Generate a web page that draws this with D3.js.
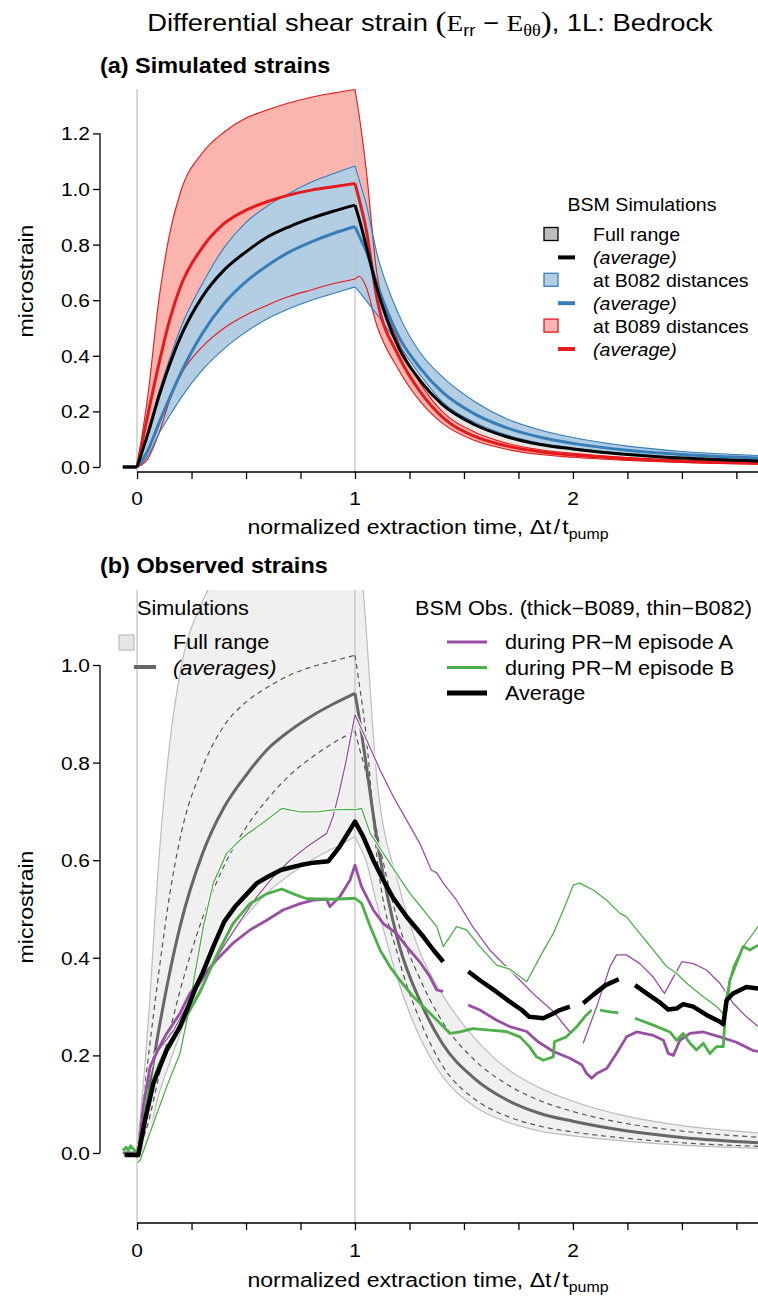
<!DOCTYPE html>
<html>
<head>
<meta charset="utf-8">
<script src="https://cdn.jsdelivr.net/npm/d3@7"></script>
<style>
  body { margin: 0; background: #fff; }
  svg { display: block; }
</style>
</head>
<body>
<svg id="chart" width="758" height="1297"></svg>
<script>
// ---------- simulated strains (normalized time grid) ----------
const simT       = [-0.065, 0, 0.05, 0.1, 0.15, 0.2, 0.3, 0.4, 0.5, 0.6, 0.7, 0.8, 0.9, 1.0, 1.02, 1.05, 1.1, 1.2, 1.3, 1.4, 1.55, 1.7, 1.85, 2.0, 2.25, 2.5, 2.9];
const simAvgAll  = [0, 0, 0.12, 0.253, 0.37, 0.469, 0.613, 0.709, 0.774, 0.828, 0.865, 0.895, 0.92, 0.942, 0.89, 0.80, 0.645, 0.43, 0.31, 0.225, 0.152, 0.108, 0.081, 0.065, 0.045, 0.032, 0.02];
const simHiB082  = [0, 0, 0.13, 0.27, 0.39, 0.50, 0.66, 0.79, 0.88, 0.94, 0.985, 1.025, 1.055, 1.083, 1.03, 0.95, 0.77, 0.55, 0.41, 0.325, 0.235, 0.172, 0.133, 0.106, 0.075, 0.056, 0.04];
const simAvgB082 = [0, 0, 0.06, 0.157, 0.25, 0.337, 0.481, 0.589, 0.667, 0.726, 0.774, 0.81, 0.84, 0.865, 0.83, 0.78, 0.66, 0.47, 0.355, 0.27, 0.19, 0.14, 0.107, 0.085, 0.06, 0.045, 0.031];
const simLoB082  = [0, 0, 0.04, 0.12, 0.185, 0.247, 0.349, 0.426, 0.486, 0.534, 0.57, 0.6, 0.624, 0.648, 0.63, 0.60, 0.55, 0.44, 0.33, 0.235, 0.16, 0.114, 0.085, 0.068, 0.047, 0.034, 0.022];
const simHiB089  = [0, 0, 0.26, 0.60, 0.84, 0.99, 1.13, 1.205, 1.255, 1.285, 1.31, 1.33, 1.345, 1.358, 1.26, 1.08, 0.70, 0.45, 0.30, 0.2, 0.125, 0.085, 0.062, 0.049, 0.034, 0.025, 0.016];
const simAvgB089 = [0, 0, 0.19, 0.37, 0.53, 0.65, 0.79, 0.876, 0.924, 0.955, 0.979, 0.996, 1.008, 1.02, 0.96, 0.86, 0.61, 0.40, 0.27, 0.18, 0.11, 0.075, 0.055, 0.043, 0.03, 0.021, 0.013];
const simLoB089  = [0, 0, 0.03, 0.12, 0.24, 0.33, 0.433, 0.5, 0.547, 0.583, 0.614, 0.637, 0.659, 0.676, 0.686, 0.65, 0.51, 0.35, 0.235, 0.158, 0.095, 0.063, 0.045, 0.035, 0.024, 0.016, 0.009];

// ---------- observed strains: [time, microstrain], null = data gap ----------
const obsB089_A = [[-0.06,-0.005],[0,-0.005],[0.006,0],[0.03,0.10],[0.06,0.177],[0.1,0.215],[0.136,0.245],[0.197,0.286],[0.243,0.327],[0.289,0.355],[0.365,0.396],[0.44,0.43],[0.518,0.457],[0.595,0.477],[0.67,0.498],[0.748,0.511],[0.81,0.518],[0.87,0.52],[0.885,0.505],[0.93,0.525],[0.977,0.559],[1.0,0.59],[1.03,0.546],[1.084,0.498],[1.13,0.47],[1.19,0.45],[1.237,0.423],[1.3,0.39],[1.344,0.361],[1.375,0.334],[1.405,0.331],[1.45,null],[1.52,0.303],[1.573,0.293],[1.65,0.272],[1.71,0.259],[1.788,0.249],[1.84,0.228],[1.91,0.208],[1.986,0.194],[2.04,0.181],[2.063,0.163],[2.086,0.153],[2.109,0.163],[2.155,0.173],[2.2,0.204],[2.246,0.238],[2.292,0.248],[2.369,0.241],[2.415,0.231],[2.438,0.204],[2.461,0.2],[2.491,0.231],[2.537,0.245],[2.598,0.248],[2.674,0.238],[2.75,0.227],[2.827,0.21],[2.85,0.208]];
const obsB082_A = [[0,-0.01],[0.02,0.05],[0.044,0.143],[0.075,0.197],[0.167,0.251],[0.243,0.313],[0.32,0.368],[0.396,0.423],[0.472,0.474],[0.549,0.525],[0.625,0.566],[0.702,0.6],[0.778,0.627],[0.87,0.655],[0.9,0.69],[0.93,0.744],[0.96,0.805],[1.0,0.898],[1.054,0.846],[1.115,0.785],[1.176,0.73],[1.237,0.682],[1.298,0.634],[1.35,0.58],[1.375,0.574],[1.405,0.553],[1.466,0.518],[1.54,0.464],[1.618,0.416],[1.694,0.382],[1.757,0.354],[1.833,0.32],[1.91,0.29],[1.986,0.248],[2.01,null],[2.047,0.225],[2.109,0.3],[2.17,0.382],[2.2,0.406],[2.246,0.406],[2.307,0.388],[2.369,0.36],[2.42,0.327],[2.46,0.36],[2.5,0.392],[2.552,0.388],[2.613,0.375],[2.674,0.348],[2.735,0.307],[2.796,0.279],[2.85,0.259]];
const obsB089_B = [[-0.065,0.005],[-0.05,0.012],[-0.04,0.004],[-0.03,0.015],[-0.02,0.01],[0,0],[0.01,0],[0.05,0.12],[0.1,0.18],[0.136,0.217],[0.212,0.268],[0.289,0.33],[0.365,0.405],[0.44,0.47],[0.518,0.511],[0.595,0.531],[0.664,0.541],[0.717,0.531],[0.778,0.521],[0.9,0.52],[1.0,0.522],[1.03,0.512],[1.07,0.464],[1.115,0.416],[1.16,0.382],[1.206,0.354],[1.268,0.32],[1.329,0.293],[1.39,0.266],[1.436,0.245],[1.482,0.248],[1.54,0.255],[1.618,0.252],[1.694,0.249],[1.757,0.238],[1.8,0.218],[1.833,0.197],[1.864,0.19],[1.91,0.197],[1.915,0.228],[1.97,0.238],[2.016,0.258],[2.054,0.279],[2.086,0.293],[2.1,null],[2.124,0.293],[2.17,0.289],[2.208,0.287],[2.24,null],[2.285,0.276],[2.369,0.262],[2.445,0.248],[2.476,0.231],[2.506,0.245],[2.537,0.225],[2.567,0.211],[2.598,0.225],[2.628,0.204],[2.659,0.218],[2.69,0.218],[2.697,0.272],[2.72,0.354],[2.75,0.389],[2.781,0.423],[2.812,0.416],[2.85,0.426]];
const obsB082_B = [[0,-0.02],[0.014,-0.015],[0.075,0.061],[0.136,0.136],[0.197,0.204],[0.235,0.286],[0.266,0.368],[0.304,0.464],[0.35,0.553],[0.411,0.614],[0.488,0.648],[0.564,0.672],[0.664,0.706],[0.748,0.699],[0.824,0.699],[0.9,0.703],[0.977,0.704],[1.0,0.703],[1.03,0.706],[1.07,0.655],[1.13,0.614],[1.19,0.573],[1.252,0.532],[1.314,0.498],[1.375,0.464],[1.405,0.423],[1.466,0.464],[1.512,0.457],[1.573,0.423],[1.65,0.385],[1.71,0.377],[1.788,0.351],[1.85,0.403],[1.91,0.45],[1.956,0.498],[2.002,0.549],[2.03,0.553],[2.093,0.539],[2.155,0.518],[2.216,0.491],[2.246,0.484],[2.307,0.45],[2.369,0.416],[2.43,0.382],[2.476,0.368],[2.522,0.348],[2.598,0.32],[2.659,0.3],[2.69,0.286],[2.705,0.327],[2.735,0.382],[2.781,0.423],[2.827,0.45],[2.85,0.465]];
const obsAverage = [[-0.055,-0.004],[0.006,-0.004],[0.037,0.068],[0.075,0.143],[0.136,0.211],[0.197,0.259],[0.235,0.30],[0.27,0.34],[0.3,0.368],[0.35,0.423],[0.4,0.474],[0.45,0.505],[0.5,0.529],[0.55,0.553],[0.6,0.566],[0.66,0.58],[0.75,0.59],[0.81,0.595],[0.878,0.598],[0.93,0.628],[1.0,0.679],[1.038,0.648],[1.084,0.6],[1.13,0.559],[1.176,0.522],[1.237,0.484],[1.314,0.443],[1.36,0.416],[1.405,0.392],[1.46,null],[1.52,0.372],[1.573,0.354],[1.65,0.33],[1.71,0.31],[1.765,0.293],[1.8,0.279],[1.864,0.276],[1.91,0.286],[1.94,0.293],[1.986,0.3],[2.02,null],[2.047,0.307],[2.093,0.324],[2.15,0.344],[2.21,0.356],[2.25,null],[2.285,0.344],[2.338,0.327],[2.4,0.308],[2.437,0.294],[2.475,0.296],[2.506,0.305],[2.552,0.3],[2.613,0.283],[2.674,0.269],[2.69,0.264],[2.705,0.313],[2.735,0.327],[2.796,0.34],[2.85,0.337]];

// ---------- axis ticks ----------
const xTicks  = d3.range(0, 3.01, 0.25);
const xLabels = [0, 1, 2];
const yTicksA = [0, 0.2, 0.4, 0.6, 0.8, 1.0, 1.2];
const yTicksB = [0, 0.2, 0.4, 0.6, 0.8, 1.0];

// ---------- styling ----------
const FONT = "'Liberation Sans', Arial, Helvetica, sans-serif";
const SERIF = "'Liberation Serif', 'Times New Roman', serif";
const SX = 1.1;   // horizontal glyph stretch
const C = {
  red: '#e41a1c', blue: '#377eb8', purple: '#984ea3', green: '#4daf4a',
  pink: '#fbb4ae', lightBlue: '#b3cde3', grey: '#e5e5e5', vline: '#c4c4c4'
};

const svg = d3.select('#chart');
const W = 758;

const x = d3.scaleLinear().domain([-0.17, 2.84]).range([100, 756]);
const yA = d3.scaleLinear().domain([0, 1.2]).range([467, 133.4]);
const yB = d3.scaleLinear().domain([0, 1]).range([1153, 665]);

const panelA = { top: 87, bottom: 472 };
const panelB = { top: 590, bottom: 1223 };

function txt(sel, px, py, s, o = {}) {
  const t = sel.append('text')
    .attr('transform', `translate(${px},${py})` + (o.rot ? ` rotate(${o.rot})` : '') + ` scale(${o.sx ?? SX},1)`)
    .attr('text-anchor', o.anchor || 'start')
    .attr('font-size', o.size || 18)
    .attr('font-family', o.family || FONT)
    .attr('fill', o.fill || '#000');
  if (o.weight) t.attr('font-weight', o.weight);
  if (o.style) t.attr('font-style', o.style);
  if (s != null) t.text(s);
  return t;
}

// split simulated series at the pumping start and stop so the kinks stay sharp
const knots = [simT.indexOf(0), simT.indexOf(1)];
function segments() {
  const cuts = [0, ...knots, simT.length - 1];
  const out = [];
  for (let i = 0; i < cuts.length - 1; i++) out.push(d3.range(cuts[i], cuts[i + 1] + 1));
  return out;
}
const SEGS = segments();

function simLine(g, yS, vals, stroke, width, dash) {
  SEGS.forEach(idx => {
    const gen = d3.line().x(i => x(simT[i])).y(i => yS(vals[i]))
      .curve(idx.length > 2 ? d3.curveMonotoneX : d3.curveLinear);
    const p = g.append('path').attr('d', gen(idx)).attr('fill', 'none')
      .attr('stroke', stroke).attr('stroke-width', width)
      .attr('stroke-linejoin', 'round');
    if (dash) p.attr('stroke-dasharray', dash);
  });
}
function simBand(g, yS, lo, hi, fill) {
  SEGS.forEach(idx => {
    const gen = d3.area().x(i => x(simT[i])).y0(i => yS(lo[i])).y1(i => yS(hi[i]))
      .curve(idx.length > 2 ? d3.curveMonotoneX : d3.curveLinear);
    g.append('path').attr('d', gen(idx)).attr('fill', fill).attr('stroke', fill).attr('stroke-width', 0.4);
  });
}

const fullHi = simT.map((_, i) => Math.max(simHiB082[i], simHiB089[i]));
const fullLo = simT.map((_, i) => Math.min(simLoB082[i], simLoB089[i]));

// clip regions
const defs = svg.append('defs');
defs.append('clipPath').attr('id', 'clipA').append('rect')
  .attr('x', 100).attr('y', panelA.top).attr('width', W - 100).attr('height', panelA.bottom - panelA.top);
defs.append('clipPath').attr('id', 'clipB').append('rect')
  .attr('x', 100).attr('y', panelB.top).attr('width', W - 100).attr('height', panelB.bottom - panelB.top);

// ---------- title ----------
const title = txt(svg, 430, 31, null, { anchor: 'middle', size: 24, sx: 1.14 });
title.append('tspan').text('Differential shear strain ');
title.append('tspan').attr('font-family', SERIF).attr('font-size', 29).attr('dy', 1).text('(');
title.append('tspan').attr('font-family', SERIF).attr('dy', -1).text('E');
title.append('tspan').attr('font-size', 16).attr('dy', 5).text('rr');
title.append('tspan').attr('dy', -5).text(' \u2212 ');
title.append('tspan').attr('font-family', SERIF).text('E');
title.append('tspan').attr('font-family', SERIF).attr('font-size', 16).attr('dy', 5).text('\u03b8\u03b8');
title.append('tspan').attr('font-family', SERIF).attr('font-size', 29).attr('dy', -4).text(')');
title.append('tspan').attr('dy', -1).text(', 1L: Bedrock');

// ---------- shared axis drawing ----------
function drawAxes(g, yS, yTicks, bottom, titleY, labelY, yTitleCenter) {
  const xa = g.append('g').attr('transform', `translate(0,${bottom})`)
    .call(d3.axisBottom(x).tickValues(xTicks).tickSize(7).tickFormat(''));
  xa.select('.domain').remove();
  xa.selectAll('.tick line').attr('stroke', '#000').attr('stroke-width', 1.3);
  g.append('line').attr('x1', x(0)).attr('x2', W).attr('y1', bottom).attr('y2', bottom)
    .attr('stroke', '#000').attr('stroke-width', 1.3);
  xLabels.forEach(v => txt(g, x(v), labelY, String(v), { anchor: 'middle', size: 19 }));

  const ya = g.append('g').attr('transform', 'translate(100,0)')
    .call(d3.axisLeft(yS).tickValues(yTicks).tickSize(7).tickFormat(''));
  ya.select('.domain').remove();
  ya.selectAll('.tick line').attr('stroke', '#000').attr('stroke-width', 1.3);
  g.append('line').attr('x1', 100).attr('x2', 100)
    .attr('y1', yS(yTicks[yTicks.length - 1])).attr('y2', yS(0))
    .attr('stroke', '#000').attr('stroke-width', 1.3);
  yTicks.forEach(v => txt(g, 90, yS(v) + 7, d3.format('.1f')(v), { anchor: 'end', size: 19 }));

  txt(g, 33, yTitleCenter, 'microstrain', { anchor: 'middle', size: 21, rot: -90 });

  const xt = txt(g, 428, titleY, null, { anchor: 'middle', size: 21 });
  xt.append('tspan').text('normalized extraction time, \u0394t');
  xt.append('tspan').attr('dx', 2).text('/');
  xt.append('tspan').attr('dx', 2).text('t');
  xt.append('tspan').attr('font-size', 14.5).attr('dy', 5).text('pump');
}

function vlines(g, top, bottom) {
  [0, 1].forEach(v => g.append('line')
    .attr('x1', x(v)).attr('x2', x(v)).attr('y1', top).attr('y2', bottom)
    .attr('stroke', C.vline).attr('stroke-width', 1.3));
}

// ---------- panel (a): simulated strains ----------
const gA = svg.append('g');
txt(gA, 100, 73, '(a) Simulated strains', { size: 21.3, weight: 'bold' });
const plotA = gA.append('g').attr('clip-path', 'url(#clipA)');
simBand(plotA, yA, fullLo, fullHi, C.grey);
simBand(plotA, yA, simLoB089, simHiB089, C.pink);
simBand(plotA, yA, simLoB082, simHiB082, C.lightBlue);
vlines(plotA, panelA.top + 2, panelA.bottom);
simLine(plotA, yA, simHiB089, C.red, 1.1);
simLine(plotA, yA, simLoB089, C.red, 1.1);
simLine(plotA, yA, simHiB082, C.blue, 1.1);
simLine(plotA, yA, simLoB082, C.blue, 1.1);
simLine(plotA, yA, simAvgB089, C.red, 3);
simLine(plotA, yA, simAvgB082, C.blue, 3);
simLine(plotA, yA, simAvgAll, '#000', 3);
drawAxes(gA, yA, yTicksA, panelA.bottom, 534, 505, 281);

// legend (a)
const legA = gA.append('g');
txt(legA, 642, 211, 'BSM Simulations', { anchor: 'middle', size: 17.8 });
const legARows = [
  { kind: 'box', fill: '#bebebe', stroke: '#000', label: 'Full range' },
  { kind: 'line', stroke: '#000', label: '(average)' },
  { kind: 'box', fill: C.lightBlue, stroke: C.blue, label: 'at B082 distances' },
  { kind: 'line', stroke: C.blue, label: '(average)' },
  { kind: 'box', fill: C.pink, stroke: C.red, label: 'at B089 distances' },
  { kind: 'line', stroke: C.red, label: '(average)' }
];
legARows.forEach((r, i) => {
  const cy = 234.5 + i * 22.9;
  if (r.kind === 'box') {
    legA.append('rect').attr('x', 544).attr('y', cy - 7).attr('width', 14).attr('height', 13)
      .attr('fill', r.fill).attr('stroke', r.stroke).attr('stroke-width', 1.3);
  } else {
    legA.append('line').attr('x1', 558).attr('x2', 575).attr('y1', cy).attr('y2', cy)
      .attr('stroke', r.stroke).attr('stroke-width', 4);
  }
  txt(legA, 593, cy + 6.5, r.label, { size: 17.8, style: r.kind === 'line' ? 'italic' : null });
});

// ---------- panel (b): observed strains ----------
const gB = svg.append('g');
txt(gB, 100, 573, '(b) Observed strains', { size: 21.3, weight: 'bold' });
const plotB = gB.append('g').attr('clip-path', 'url(#clipB)');
simBand(plotB, yB, fullLo, fullHi, '#f0f0f0');
simLine(plotB, yB, fullHi, '#bdbdbd', 1.2);
simLine(plotB, yB, fullLo, '#bdbdbd', 1.2);
vlines(plotB, panelB.top, panelB.bottom);
simLine(plotB, yB, simAvgB089, '#555', 1.2, '5,4');
simLine(plotB, yB, simAvgB082, '#555', 1.2, '5,4');
simLine(plotB, yB, simAvgAll, '#666', 3);

const obsLine = d3.line().defined(d => d[1] != null).x(d => x(d[0])).y(d => yB(d[1]));
function obs(data, color, width, halo) {
  if (halo) plotB.append('path').attr('d', obsLine(data)).attr('fill', 'none')
    .attr('stroke', '#fff').attr('stroke-width', width + 2).attr('stroke-linejoin', 'round');
  plotB.append('path').attr('d', obsLine(data)).attr('fill', 'none')
    .attr('stroke', color).attr('stroke-width', width)
    .attr('stroke-linejoin', 'round').attr('stroke-linecap', 'butt');
}
obs(obsB082_A, C.purple, 1.3, true);
obs(obsB082_B, C.green, 1.3, true);
obs(obsB089_A, C.purple, 2.8, false);
obs(obsB089_B, C.green, 2.8, false);
obs(obsAverage, '#000', 4.5, false);
drawAxes(gB, yB, yTicksB, panelB.bottom, 1287, 1257, 907);

// legend (b), simulations
const legB1 = gB.append('g');
txt(legB1, 137, 615, 'Simulations', { size: 19.7 });
legB1.append('rect').attr('x', 119).attr('y', 635).attr('width', 15).attr('height', 15)
  .attr('fill', '#e6e6e6').attr('stroke', '#bdbdbd').attr('stroke-width', 1.2);
legB1.append('line').attr('x1', 134).attr('x2', 156).attr('y1', 667).attr('y2', 667)
  .attr('stroke', '#666').attr('stroke-width', 4);
txt(legB1, 173, 649, 'Full range', { size: 19.7 });
txt(legB1, 173, 675, '(averages)', { size: 19.7, style: 'italic' });

// legend (b), observations
const legB2 = gB.append('g');
txt(legB2, 415, 615, 'BSM Obs. (thick\u2212B089, thin\u2212B082)', { size: 19.7 });
const legBRows = [
  { stroke: C.purple, w: 3, label: 'during PR\u2212M episode A' },
  { stroke: C.green, w: 3, label: 'during PR\u2212M episode B' },
  { stroke: '#000', w: 5, label: 'Average' }
];
legBRows.forEach((r, i) => {
  const cy = 642 + i * 25.5;
  legB2.append('line').attr('x1', 447).attr('x2', 487).attr('y1', cy).attr('y2', cy)
    .attr('stroke', r.stroke).attr('stroke-width', r.w);
  txt(legB2, 505, cy + 7, r.label, { size: 19.7 });
});
</script>
</body>
</html>
